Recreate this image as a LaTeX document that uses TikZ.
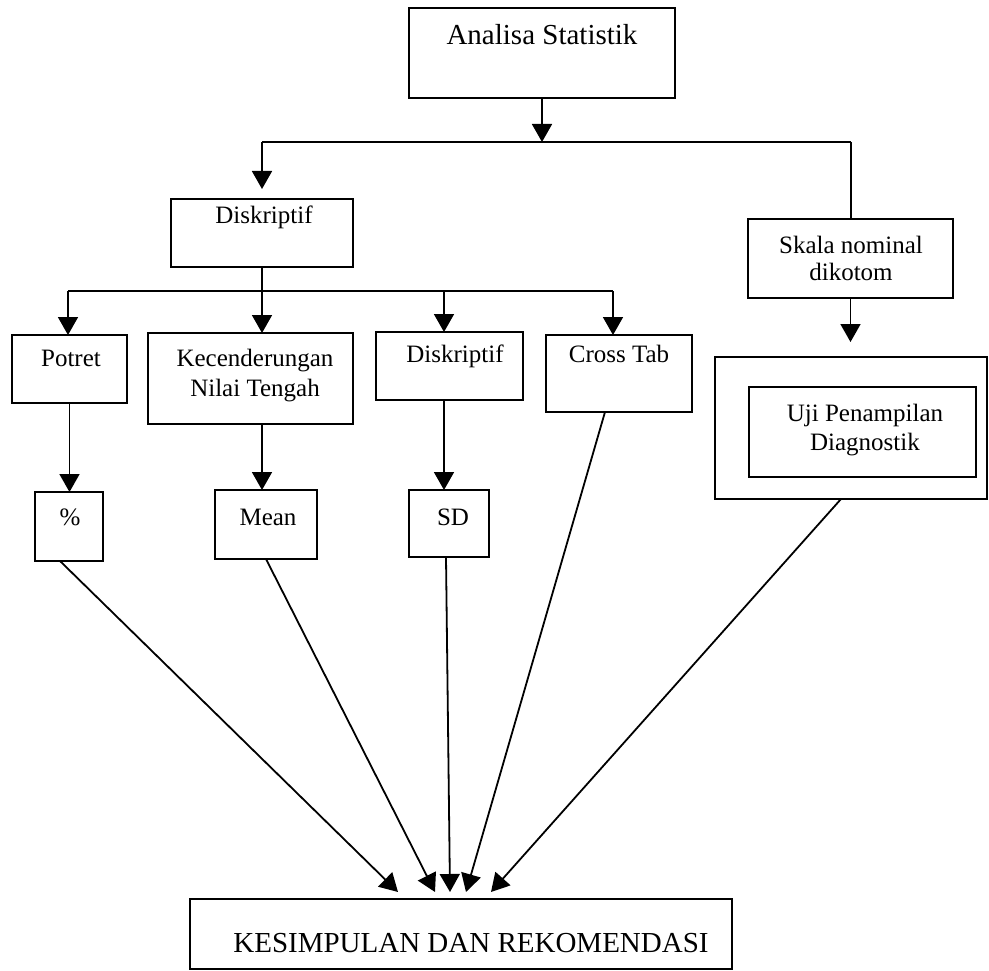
\documentclass[tikz,border=0pt]{standalone}
\usepackage{fontspec}
\setmainfont{Liberation Serif}
\usetikzlibrary{arrows.meta}
\begin{document}
\begin{tikzpicture}[x=1pt,y=-1pt,
  box/.style={draw, line width=2pt, inner sep=0pt, outer sep=0pt},
  lbl/.style={anchor=base, inner sep=0pt, font=\fontsize{25}{30}\selectfont},
  biglbl/.style={anchor=base, inner sep=0pt, font=\fontsize{29}{34}\selectfont},
  link/.style={line width=1.8pt},
  arr/.style={link, -{Triangle[width=20pt,length=18pt]}},
]
\useasboundingbox (0,0) rectangle (989,971);

% boxes
\node[box, minimum width=266pt, minimum height=90pt] (ana) at (542,53) {};
\node[box, minimum width=182pt, minimum height=68pt] (dsk) at (262,233) {};
\node[box, minimum width=205pt, minimum height=79pt] (skala) at (850.5,258.5) {};
\node[box, minimum width=115pt, minimum height=68pt] (potret) at (69.5,369) {};
\node[box, minimum width=205pt, minimum height=91pt] (kec) at (250.5,378.5) {};
\node[box, minimum width=147pt, minimum height=68pt] (dsk2) at (449.5,366) {};
\node[box, minimum width=146pt, minimum height=77pt] (cross) at (619,373.5) {};
\node[box, minimum width=272pt, minimum height=142pt] (ujiout) at (851,428) {};
\node[box, minimum width=227pt, minimum height=90pt] (ujiin) at (862.5,432) {};
\node[box, minimum width=68pt, minimum height=69pt] (pct) at (69,526.5) {};
\node[box, minimum width=102pt, minimum height=69pt] (mean) at (266,524.5) {};
\node[box, minimum width=80pt, minimum height=67pt] (sd) at (449,523.5) {};
\node[box, minimum width=542pt, minimum height=70pt] (kes) at (461,934) {};

% texts
\node[biglbl] (ana-t) at (542,45) {Analisa Statistik};
\node[lbl] (dsk-t) at (264,224) {Diskriptif};
\node[lbl] (skala-t1) at (851,254) {Skala nominal};
\node[lbl] (skala-t2) at (851,280) {dikotom};
\node[lbl] (potret-t) at (71,366) {Potret};
\node[lbl] (kec-t1) at (255,366) {Kecenderungan};
\node[lbl] (kec-t2) at (255,396) {Nilai Tengah};
\node[lbl] (dsk2-t) at (455,362) {Diskriptif};
\node[lbl] (cross-t) at (619,362) {Cross Tab};
\node[lbl] (uji-t1) at (865,421) {Uji Penampilan};
\node[lbl] (uji-t2) at (865,450) {Diagnostik};
\node[lbl] (pct-t) at (70,525) {\%};
\node[lbl] (mean-t) at (268,525) {Mean};
\node[lbl] (sd-t) at (453,525) {SD};
\node[biglbl] (kes-t) at (471,952) {KESIMPULAN DAN REKOMENDASI};

% junction points
\coordinate (t0) at (542,142);
\coordinate (tl) at (262,142);
\coordinate (tr) at (851,142);
\coordinate (b1) at (68,291);
\coordinate (b2) at (262,291);
\coordinate (b3) at (444,291);
\coordinate (b4) at (613,291);

% converging tips above the conclusion box
\coordinate (k1) at (398,892);
\coordinate (k2) at (435,892);
\coordinate (k3) at (450,892);
\coordinate (k4) at (466,892);
\coordinate (k5) at (491,892);

% top split
\draw[arr] (ana.south) -- (t0);
\draw[link] (tl) -- (tr);
\draw[arr, shorten >=10pt] (tl) -- (tl |- dsk.north);
\draw[link] (tr) -- (tr |- skala.north);

% descriptive split
\draw[link] (dsk.south) -- (b2);
\draw[link] (b1) -- (b4);
\draw[arr] (b1) -- (b1 |- potret.north);
\draw[arr] (b2) -- (b2 |- kec.north);
\draw[arr] (b3) -- (b3 |- dsk2.north);
\draw[arr] (b4) -- (b4 |- cross.north);

% second level
\draw[arr] (potret.south) -- (potret.south |- pct.north);
\draw[arr] (b2 |- kec.south) -- (b2 |- mean.north);
\draw[arr] (b3 |- dsk2.south) -- (b3 |- sd.north);
\draw[arr, shorten >=15pt] (skala.south) -- (skala.south |- ujiout.north);

% into the conclusion
\draw[arr] ([xshift=-9pt]pct.south) -- (k1);
\draw[arr] (mean.south) -- (k2);
\draw[arr] ([xshift=-3pt]sd.south) -- (k3);
\draw[arr] ([xshift=-14pt]cross.south) -- (k4);
\draw[arr] ([xshift=-10pt]ujiout.south) -- (k5);
\end{tikzpicture}
\end{document}
